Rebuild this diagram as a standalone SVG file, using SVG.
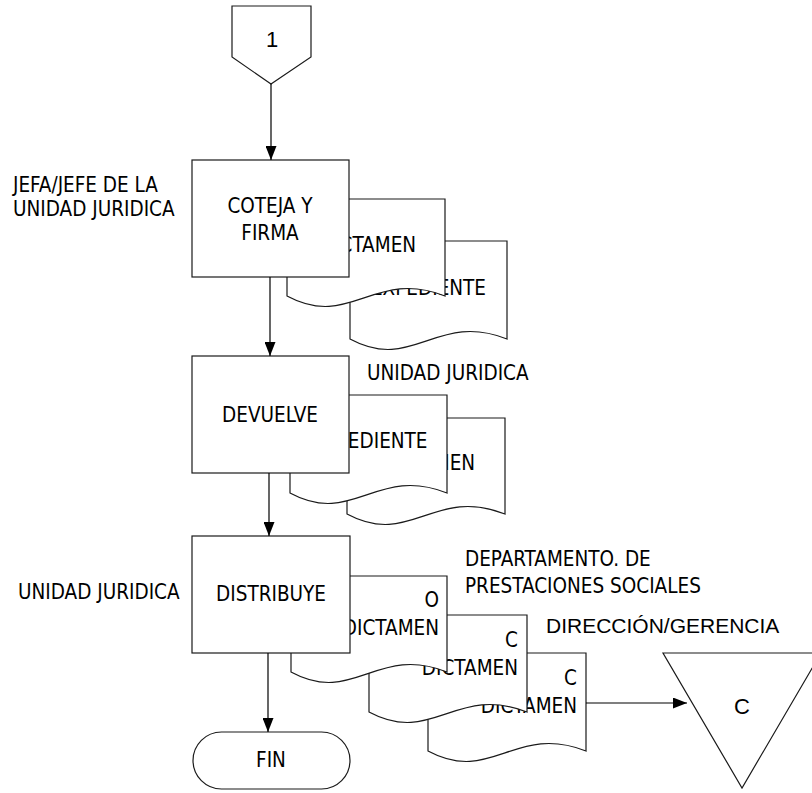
<svg xmlns="http://www.w3.org/2000/svg" width="812" height="793" viewBox="0 0 812 793">
<defs>
<style>
.s{fill:#fff;stroke:#1a1a1a;stroke-width:1.2}
.t{font-family:"DejaVu Sans Condensed","DejaVu Sans","Liberation Sans",sans-serif;font-stretch:condensed;font-size:20.5px;fill:#000}
.a{font-family:"Liberation Sans",Arial,sans-serif;font-size:21px;fill:#000}
.c{text-anchor:middle}
.e{text-anchor:end}
.ln{fill:none;stroke:#000;stroke-width:1.2}
</style>
<marker id="ah" markerUnits="userSpaceOnUse" markerWidth="14" markerHeight="11" refX="14" refY="5.5" orient="auto">
<path d="M0,0 L14,5.5 L0,11 Z" fill="#000"/>
</marker>
</defs>
<rect width="812" height="793" fill="#fff"/>

<g id="labels">
<text class="t" x="13" y="192">JEFA/JEFE DE LA</text>
<text class="t" x="13" y="216">UNIDAD JURIDICA</text>
<text class="t" x="367" y="380">UNIDAD JURIDICA</text>
<text class="t" x="18" y="599">UNIDAD JURIDICA</text>
<text class="t" x="465" y="566">DEPARTAMENTO. DE</text>
<text class="t" x="465" y="593">PRESTACIONES SOCIALES</text>
<text class="a" x="546" y="633">DIRECCIÓN/GERENCIA</text>
</g>

<g id="offpage1">
<polygon class="s" points="232,6 311,6 311,57 271,84 232,57"/>
<text class="a c" x="272" y="47" style="font-size:22px">1</text>
</g>

<g id="doc-expediente-1">
<path class="s" d="M350,241 H507 V339 C436.4,311 412.8,373 350,339 Z"/>
<text class="t c" x="428.5" y="295">EXPEDIENTE</text>
</g>
<g id="doc-dictamen-1">
<path class="s" d="M287,199 H445 V296 C373.9,268 350.2,330 287,296 Z"/>
<text class="t c" x="368" y="252">DICTAMEN</text>
</g>
<g id="coteja">
<rect class="s" x="192" y="160" width="157" height="117"/>
<text class="t c" x="270" y="213">COTEJA Y</text>
<text class="t c" x="270" y="240">FIRMA</text>
</g>

<g id="doc-dictamen-2">
<path class="s" d="M347,418 H505 V514 C433.9,486 410.2,548 347,514 Z"/>
<text class="t c" x="427" y="470">DICTAMEN</text>
</g>
<g id="doc-expediente-2">
<path class="s" d="M290,395 H447 V493 C376.4,465 352.8,527 290,493 Z"/>
<text class="t c" x="370" y="448">EXPEDIENTE</text>
</g>
<g id="devuelve">
<rect class="s" x="192" y="356" width="157" height="117"/>
<text class="t c" x="270" y="422">DEVUELVE</text>
</g>

<g id="doc-dictamen-c2">
<path class="s" d="M428,653 H586 V751 C514.9,723 491.2,785 428,751 Z"/>
<text class="t e" x="577" y="685">C</text>
<text class="t e" x="577" y="713">DICTAMEN</text>
</g>
<g id="doc-dictamen-c1">
<path class="s" d="M369,615 H527 V712 C455.9,684 432.2,746 369,712 Z"/>
<text class="t e" x="518" y="647">C</text>
<text class="t e" x="518" y="675">DICTAMEN</text>
</g>
<g id="doc-dictamen-o">
<path class="s" d="M291,576 H447 V672 C376.8,644 353.4,706 291,672 Z"/>
<text class="t e" x="439" y="607">O</text>
<text class="t e" x="439" y="635">DICTAMEN</text>
</g>
<g id="distribuye">
<rect class="s" x="192" y="536" width="158" height="117"/>
<text class="t c" x="271" y="601">DISTRIBUYE</text>
</g>

<g id="fin">
<rect class="s" x="193" y="732" width="157" height="57" rx="28.5" ry="28.5"/>
<text class="t c" x="271" y="767">FIN</text>
</g>

<g id="archivo-c">
<polygon class="s" points="663,653 821,653 742,788"/>
<text class="a c" x="742" y="714" style="font-size:22px">C</text>
</g>

<g id="connectors">
<line class="ln" x1="271" y1="84" x2="271" y2="160" marker-end="url(#ah)"/>
<line class="ln" x1="270" y1="277" x2="270" y2="356" marker-end="url(#ah)"/>
<line class="ln" x1="269" y1="473" x2="269" y2="536" marker-end="url(#ah)"/>
<line class="ln" x1="268" y1="653" x2="268" y2="732" marker-end="url(#ah)"/>
<line class="ln" x1="586" y1="703" x2="687" y2="703" marker-end="url(#ah)"/>
</g>
</svg>
